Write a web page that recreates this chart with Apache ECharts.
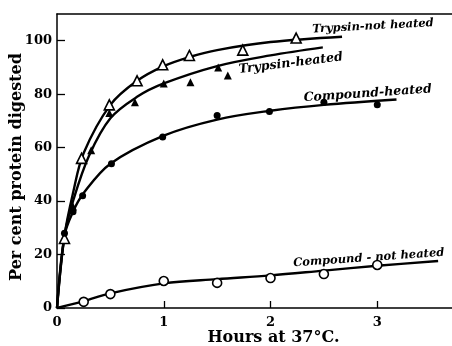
<!DOCTYPE html>
<html>
<head>
<meta charset="UTF-8">
<title>Per cent protein digested</title>
<script src="https://cdn.jsdelivr.net/npm/echarts@6/dist/echarts.min.js"></script>
</head>
<body style="margin:0;background:#fff">
<div id="chart" style="width:452px;height:346px;"></div>
<script>
// measured points, [hours, per cent digested]
var trypsinRaw = [[0.07, 26], [0.23, 56], [0.49, 76], [0.75, 85], [0.99, 91], [1.24, 94.5], [1.74, 96.5], [2.24, 101]];
var trypsinHeated = [[0.15, 38], [0.32, 59], [0.49, 73], [0.73, 77], [1.0, 84], [1.25, 84.5], [1.51, 90], [1.6, 87]];
var compoundHeated = [[0.07, 28], [0.15, 36], [0.24, 42], [0.51, 54], [0.99, 64], [1.5, 72], [1.99, 73.5], [2.5, 77], [3.0, 76]];
var compoundRaw = [[0.25, 2.3], [0.5, 5.2], [1.0, 10.1], [1.5, 9.4], [2.0, 11.2], [2.5, 12.7], [3.0, 16.1]];

// fitted curves as drawn
var trypsinRawCurve = [[0, 0], [0.07, 27], [0.15, 43], [0.25, 58], [0.5, 76], [0.75, 85], [1.0, 90.5], [1.25, 94], [1.5, 96.5], [2.0, 99.5], [2.67, 101.5]];
var trypsinHeatedCurve = [[0, 0], [0.07, 27], [0.15, 40], [0.3, 57], [0.5, 71], [0.75, 79], [1.0, 84], [1.5, 90.5], [2.0, 94.5], [2.49, 97.5]];
var compoundHeatedCurve = [[0, 0], [0.07, 27], [0.15, 36], [0.25, 43], [0.5, 54], [1.0, 64.5], [1.5, 70.5], [2.0, 73.8], [2.5, 76], [3.18, 78]];
var compoundRawCurve = [[0, 0], [0.25, 2.6], [0.5, 5.5], [1.0, 9.2], [1.5, 10.8], [2.0, 12.2], [2.5, 14], [3.0, 15.8], [3.57, 17.6]];

var xTicks = [0, 1, 2, 3];
var yTicks = [0, 20, 40, 60, 80, 100];

// curve labels: text, anchor [hours, per cent], tilt
var curveLabels = [
    ['Trypsin-not heated', [2.96, 105.4], 3],
    ['Trypsin-heated', [2.19, 91.5], 7],
    ['Compound-heated', [2.91, 80.2], 4],
    ['Compound - not heated', [2.92, 18.7], 4]
];

var chart = echarts.init(document.getElementById('chart'), null, {renderer: 'canvas'});

var axisFont = {color: '#000', fontFamily: 'DejaVu Serif', fontWeight: 'bold', fontSize: 13};

function curve(data, lab) {
    return {
        type: 'line', data: data, smooth: 0.35, symbol: 'none', silent: true,
        lineStyle: {color: '#000', width: 2.4},
        markPoint: lab ? {
            symbol: 'circle', symbolSize: 0,
            data: [{name: lab[0], coord: lab[1]}],
            label: {
                show: true, formatter: '{b}', position: 'inside', rotate: lab[2],
                color: '#000', fontFamily: 'DejaVu Serif', fontStyle: 'italic',
                fontWeight: 'bold', fontSize: lab[0].length < 16 ? 12.5 : 11.5
            }
        } : undefined
    };
}

function points(data, symbol, size, hollow) {
    return {
        type: 'scatter', data: data, symbol: symbol, symbolSize: size, z: 5,
        itemStyle: hollow ? {color: '#fff', borderColor: '#000', borderWidth: 1.6, opacity: 1}
                          : {color: '#000', opacity: 1}
    };
}

var option = {
    animation: false,
    backgroundColor: '#fff',
    grid: {left: 57, right: 0, top: 14, bottom: 38, outerBoundsMode: 'none', containLabel: false},
    xAxis: [{
        type: 'value', min: 0, max: 3.7,
        name: 'Hours at 37°C.', nameLocation: 'middle', nameGap: 22, nameMoveOverlap: false,
        nameTextStyle: {color: '#000', fontFamily: 'DejaVu Serif', fontWeight: 'bold', fontSize: 16, padding: [0, 0, 0, 38]},
        axisLine: {lineStyle: {color: '#000', width: 1.5}},
        axisTick: {inside: true, length: 7, lineStyle: {color: '#000', width: 1.3}, customValues: xTicks},
        axisLabel: Object.assign({margin: 8, customValues: xTicks}, axisFont),
        splitLine: {show: false}
    }, {
        type: 'value', position: 'top', min: 0, max: 3.7,
        axisLine: {show: true, lineStyle: {color: '#000', width: 1.5}},
        axisTick: {show: false}, axisLabel: {show: false}, splitLine: {show: false}
    }],
    yAxis: {
        type: 'value', min: 0, max: 110,
        name: 'Per cent protein digested', nameLocation: 'middle', nameGap: 32, nameMoveOverlap: false,
        nameTextStyle: {color: '#000', fontFamily: 'DejaVu Serif', fontWeight: 'bold', fontSize: 16, padding: [0, 12, 0, 0]},
        axisLine: {show: true, lineStyle: {color: '#000', width: 1.5}},
        axisTick: {show: true, inside: true, length: 8, lineStyle: {color: '#000', width: 1.3}, customValues: yTicks},
        axisLabel: Object.assign({margin: 5, customValues: yTicks}, axisFont),
        splitLine: {show: false}
    },
    series: [
        curve(trypsinRawCurve, curveLabels[0]),
        curve(trypsinHeatedCurve, curveLabels[1]),
        curve(compoundHeatedCurve, curveLabels[2]),
        curve(compoundRawCurve, curveLabels[3]),
        points(trypsinRaw, 'triangle', 10, true),
        points(trypsinHeated, 'triangle', 8, false),
        points(compoundHeated, 'circle', 7, false),
        points(compoundRaw, 'circle', 9, true)
    ]
};
chart.setOption(option);
</script>
</body>
</html>
